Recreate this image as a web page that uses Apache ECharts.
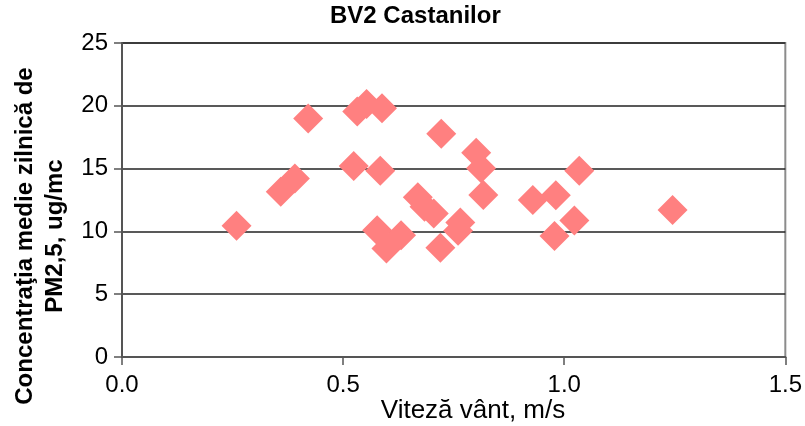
<!DOCTYPE html>
<html>
<head>
<meta charset="utf-8">
<script src="https://cdn.jsdelivr.net/npm/echarts@6/dist/echarts.min.js"></script>
<style>
  html, body { margin: 0; padding: 0; background: #fff; }
  #chart { width: 805px; height: 426px; }
</style>
</head>
<body>
<div id="chart"></div>
<script>
// wind speed (m/s) vs daily mean PM2.5 (ug/mc)
var windSpeed = [0.259, 0.359, 0.391, 0.421, 0.532, 0.553, 0.588, 0.524, 0.584, 0.577,
  0.631, 0.598, 0.669, 0.684, 0.705, 0.720, 0.765, 0.760, 0.722, 0.801,
  0.812, 0.817, 0.929, 0.981, 1.034, 1.023, 0.978, 1.245];
var pm25 = [10.45, 13.16, 14.22, 18.98, 19.54, 20.15, 19.8, 15.2, 14.83, 10.1,
  9.7, 8.64, 12.71, 11.96, 11.43, 8.7, 10.7, 10.05, 17.78, 16.27,
  15.02, 12.89, 12.5, 12.87, 14.83, 10.87, 9.63, 11.7];
var xTicks = [0, 0.5, 1.0, 1.5];
var yTicks = [0, 5, 10, 15, 20, 25];

var chartTitle = "BV2 Castanilor";
var xTitle = "Viteză vânt, m/s";
var yTitle = "Concentraţia medie zilnică de\nPM2,5, ug/mc";

var font = "Liberation Sans, Arial, sans-serif";

var points = windSpeed.map(function (v, i) {
  return [v, pm25[i]];
});

var myChart = echarts.init(document.getElementById("chart"));

myChart.setOption({
  animation: false,
  title: {
    text: chartTitle,
    left: 330,
    top: 4,
    padding: 0,
    textStyle: {
      fontFamily: font,
      fontWeight: "bold",
      fontSize: 24,
      color: "#000",
    },
  },
  grid: {
    left: 122,
    top: 43,
    right: 19,
    bottom: 69,
    show: true,
    borderColor: "#8c8c8c",
    borderWidth: 2,
  },
  xAxis: {
    type: "value",
    min: xTicks[0],
    max: xTicks[xTicks.length - 1],
    interval: 0.5,
    splitLine: { show: false },
    axisLine: { lineStyle: { color: "#555", width: 2 } },
    axisTick: { show: true, length: 8, lineStyle: { color: "#555", width: 1.5 } },
    axisLabel: {
      margin: 16,
      fontFamily: font,
      fontSize: 24,
      color: "#000",
      formatter: function (value) {
        return value.toFixed(1);
      },
    },
  },
  yAxis: {
    type: "value",
    min: yTicks[0],
    max: yTicks[yTicks.length - 1],
    interval: 5,
    splitLine: { show: true, lineStyle: { color: "#222", width: 1.5 } },
    axisLine: { show: true, lineStyle: { color: "#555", width: 2 } },
    axisTick: { show: true, length: 8, lineStyle: { color: "#555", width: 1.5 } },
    axisLabel: {
      margin: 14,
      fontFamily: font,
      fontSize: 24,
      color: "#000",
    },
  },
  graphic: [
    {
      type: "text",
      x: 40,
      y: 236,
      rotation: Math.PI / 2,
      style: {
        text: yTitle,
        fontFamily: font,
        fontWeight: "bold",
        fontSize: 24,
        lineHeight: 30,
        fill: "#000",
        align: "center",
        verticalAlign: "middle",
      },
    },
    {
      type: "text",
      x: 473,
      y: 411,
      style: {
        text: xTitle,
        fontFamily: font,
        fontSize: 26,
        fill: "#000",
        align: "center",
        verticalAlign: "middle",
      },
    },
  ],
  series: [
    {
      type: "scatter",
      symbol: "diamond",
      symbolSize: 30,
      itemStyle: { color: "#ff8080", opacity: 1 },
      data: points,
    },
  ],
});
</script>
</body>
</html>
